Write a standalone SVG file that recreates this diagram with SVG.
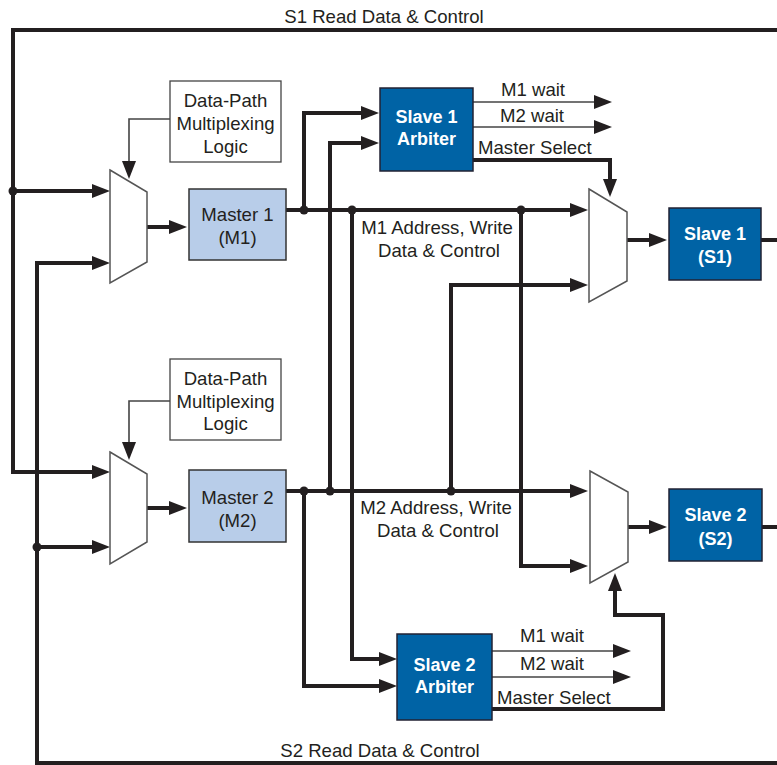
<svg xmlns="http://www.w3.org/2000/svg" width="777" height="765" viewBox="0 0 777 765">
<defs>
<marker id="ah" viewBox="0 0 18 14" refX="10" refY="7" markerWidth="18" markerHeight="14" markerUnits="userSpaceOnUse" orient="auto">
<path d="M0,0 L18,7 L0,14 z" fill="#231f20"/>
</marker>
</defs>
<style>
.t{font-family:"Liberation Sans",Arial,sans-serif;font-size:18.6px;fill:#231f20;text-anchor:middle}
.tl{font-family:"Liberation Sans",Arial,sans-serif;font-size:18.6px;fill:#231f20}
.tw{font-family:"Liberation Sans",Arial,sans-serif;font-size:18px;font-weight:bold;fill:#ffffff;text-anchor:middle}
.thick{fill:none;stroke:#231f20;stroke-width:4}
.thin{fill:none;stroke:#444;stroke-width:1.6}
.arr{marker-end:url(#ah)}
.dot{fill:#231f20}
.mux{fill:#fff;stroke:#555;stroke-width:1.5}
.dark{fill:#0063a5;stroke:#223;stroke-width:1.5}
.light{fill:#b8cde9;stroke:#333;stroke-width:1.5}
.note{fill:#fff;stroke:#444;stroke-width:1.3}
</style>
<rect width="777" height="765" fill="#fff"/>

<g id="connectors">
<path class="thick arr" d="M777,30 H13 V472 H102"/>
<path class="thick arr" d="M13,191 H102"/>
<path class="thick arr" d="M777,763 H37 V263 H102"/>
<path class="thick arr" d="M37,547 H102"/>
<path class="thick arr" d="M147,227 H179"/>
<path class="thick arr" d="M147,508 H179"/>
<path class="thick arr" d="M286,210 H580"/>
<path class="thick arr" d="M304,210 V113 H371"/>
<path class="thick arr" d="M330,491 V143 H371"/>
<path class="thick arr" d="M352,210 V659 H389"/>
<path class="thick arr" d="M521,210 V566 H580"/>
<path class="thick arr" d="M627,240 H659"/>
<path class="thick" d="M761,240 H777"/>
<path class="thick arr" d="M473,160 H610 V189"/>
<path class="thick arr" d="M286,491 H580"/>
<path class="thick arr" d="M451,491 V285 H580"/>
<path class="thick arr" d="M304,491 V686 H389"/>
<path class="thick arr" d="M628,527 H659"/>
<path class="thick" d="M762,527 H777"/>
<path class="thick arr" d="M492,709 H663 V615 H615 V581"/>
<path class="thin arr" d="M473,102 H604"/>
<path class="thin arr" d="M473,127 H604"/>
<path class="thin arr" d="M492,651 H623"/>
<path class="thin arr" d="M492,677 H623"/>
<path class="thin arr" d="M170,119 H129 V171"/>
<path class="thin arr" d="M170,401 H129 V452"/>
<circle class="dot" cx="13" cy="191" r="4.5"/>
<circle class="dot" cx="37" cy="547" r="4.5"/>
<circle class="dot" cx="304" cy="210" r="4.5"/>
<circle class="dot" cx="352" cy="210" r="4.5"/>
<circle class="dot" cx="521" cy="210" r="4.5"/>
<circle class="dot" cx="304" cy="491" r="4.5"/>
<circle class="dot" cx="330" cy="491" r="4.5"/>
<circle class="dot" cx="451" cy="491" r="4.5"/>
<text class="t" x="384" y="23">S1 Read Data &amp; Control</text>
<text class="t" x="380" y="757">S2 Read Data &amp; Control</text>
<text class="t" x="437" y="234">M1 Address, Write</text>
<text class="t" x="439" y="257">Data &amp; Control</text>
<text class="t" x="436" y="514">M2 Address, Write</text>
<text class="t" x="438" y="537">Data &amp; Control</text>
<text class="t" x="533" y="96">M1 wait</text>
<text class="t" x="532" y="122">M2 wait</text>
<text class="tl" x="478" y="154">Master Select</text>
<text class="t" x="552" y="642">M1 wait</text>
<text class="t" x="552" y="670">M2 wait</text>
<text class="tl" x="497" y="704">Master Select</text>
</g>

<g id="dpml1">
<rect class="note" x="170" y="81" width="111" height="81"/>
<text class="t" x="225.5" y="107">Data-Path</text>
<text class="t" x="225.5" y="130">Multiplexing</text>
<text class="t" x="225.5" y="153">Logic</text>
</g>
<g id="dpml2">
<rect class="note" x="170" y="359" width="111" height="81"/>
<text class="t" x="225.5" y="385">Data-Path</text>
<text class="t" x="225.5" y="408">Multiplexing</text>
<text class="t" x="225.5" y="430">Logic</text>
</g>

<g id="mux-m1"><path class="mux" d="M110,170 L147,192 L147,262 L110,283 z"/></g>
<g id="mux-m2"><path class="mux" d="M110,452 L147,474 L147,542 L110,564 z"/></g>
<g id="mux-s1"><path class="mux" d="M589,189 L627,212 L627,281 L589,302 z"/></g>
<g id="mux-s2"><path class="mux" d="M590,471 L628,492 L628,562 L590,583 z"/></g>

<g id="master1">
<rect class="light" x="189" y="189" width="97" height="71"/>
<text class="t" x="237.5" y="221">Master 1</text>
<text class="t" x="237.5" y="244">(M1)</text>
</g>
<g id="master2">
<rect class="light" x="189" y="470" width="97" height="72"/>
<text class="t" x="237.5" y="504">Master 2</text>
<text class="t" x="237.5" y="527">(M2)</text>
</g>
<g id="arbiter1">
<rect class="dark" x="380" y="88" width="93" height="83"/>
<text class="tw" x="426.5" y="123">Slave 1</text>
<text class="tw" x="426.5" y="145">Arbiter</text>
</g>
<g id="arbiter2">
<rect class="dark" x="397" y="634" width="95" height="86"/>
<text class="tw" x="444.5" y="671">Slave 2</text>
<text class="tw" x="444.5" y="693">Arbiter</text>
</g>
<g id="slave1">
<rect class="dark" x="669" y="208" width="92" height="72"/>
<text class="tw" x="715" y="240">Slave 1</text>
<text class="tw" x="715" y="263">(S1)</text>
</g>
<g id="slave2">
<rect class="dark" x="669" y="489" width="93" height="72"/>
<text class="tw" x="715.5" y="521">Slave 2</text>
<text class="tw" x="715.5" y="545">(S2)</text>
</g>
</svg>
